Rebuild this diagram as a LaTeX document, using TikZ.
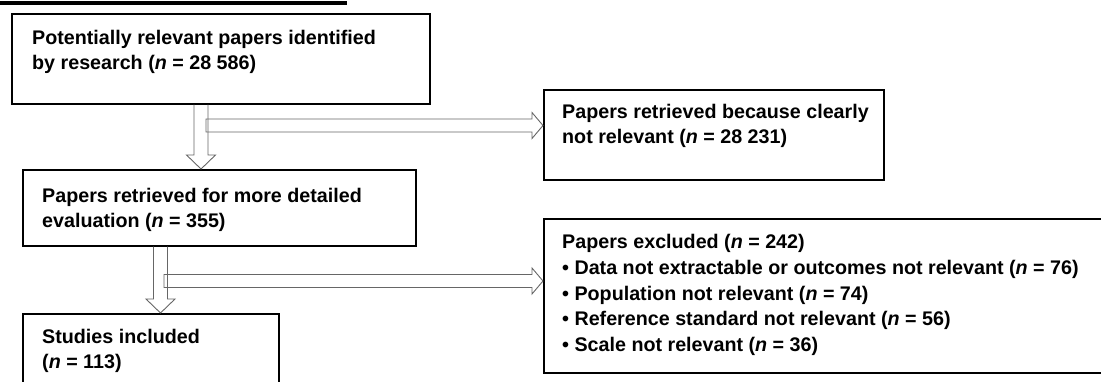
\documentclass[tikz,border=0pt]{standalone}
\usepackage{fontspec}
\setmainfont{Liberation Sans}
\usetikzlibrary{calc}
\newcommand\myvarrow[2]{%
  \draw[blockarrow] ($(#1)+(-7,0)$) -- ($(#2)+(-7,-14)$) -- ($(#2)+(-14.5,-14)$) -- (#2)
    -- ($(#2)+(14.5,-14)$) -- ($(#2)+(7,-14)$) -- ($(#1)+(7,0)$);}
\newcommand\myharrow[2]{%
  \draw[blockarrow] ($(#1)+(0,-6.5)$) -- ($(#2)+(-11,-6.5)$) -- ($(#2)+(-11,-13)$) -- (#2)
    -- ($(#2)+(-11,13)$) -- ($(#2)+(-11,6.5)$) -- ($(#1)+(0,6.5)$) -- cycle;}
\begin{document}
\begin{tikzpicture}[x=1pt,y=-1pt,
  box/.style={draw=black,line width=1.6pt,inner sep=0pt,anchor=north west},
  txt/.style={anchor=north west,inner sep=0pt,align=left,
    font=\fontsize{19.7}{25.7}\selectfont\bfseries},
  blockarrow/.style={draw=black!60,line width=0.9pt,line join=miter}]
\useasboundingbox (0,0) rectangle (1101,381);
\begin{scope}
\clip (0,0) rectangle (1101,381);
% title underline (title itself is cut off)
\draw[line width=3.5pt] (0,3) -- (347,3);
% boxes
\node[box,minimum width=418pt,minimum height=90pt] (b1) at (11,13) {};
\node[box,minimum width=340pt,minimum height=90pt] (bR) at (543,89) {};
\node[box,minimum width=393pt,minimum height=76pt] (b2) at (22,169) {};
\node[box,minimum width=256pt,minimum height=90pt] (b3) at (22,313) {};
\node[box,minimum width=580pt,minimum height=154pt] (bX) at (543,218) {};
% texts
\node[txt] (t1) at (32,28) {\rule{0pt}{16pt}Potentially relevant papers identified\\by research (\textit{n} = 28 586)};
\node[txt] (tR) at (562,102) {\rule{0pt}{16pt}Papers retrieved because clearly\\not relevant (\textit{n} = 28 231)};
\node[txt] (t2) at (42,186) {\rule{0pt}{16pt}Papers retrieved for more detailed\\evaluation (\textit{n} = 355)};
\node[txt] (t3) at (42,327) {\rule{0pt}{16pt}Studies included\\(\textit{n} = 113)};
\node[txt] (tX) at (562,232.5) {\rule{0pt}{16pt}Papers excluded (\textit{n} = 242)\\
  • Data not extractable or outcomes not relevant (\textit{n} = 76)\\
  • Population not relevant (\textit{n} = 74)\\
  • Reference standard not relevant (\textit{n} = 56)\\
  • Scale not relevant (\textit{n} = 36)};
% arrows
\coordinate (v1) at (201,0);
\coordinate (v2) at (160.5,0);
\coordinate (a1s) at (v1 |- b1.south);
\coordinate (a1t) at (v1 |- b2.north);
\coordinate (a2s) at (v2 |- b2.south);
\coordinate (a2t) at (v2 |- b3.north);
\coordinate (h1s) at (206,125.5);
\coordinate (h1t) at (h1s -| bR.west);
\coordinate (h2s) at (164,281);
\coordinate (h2t) at (h2s -| bX.west);
\myharrow{h1s}{h1t}
\myvarrow{a1s}{a1t}
\myharrow{h2s}{h2t}
\myvarrow{a2s}{a2t}
\end{scope}
\end{tikzpicture}
\end{document}
